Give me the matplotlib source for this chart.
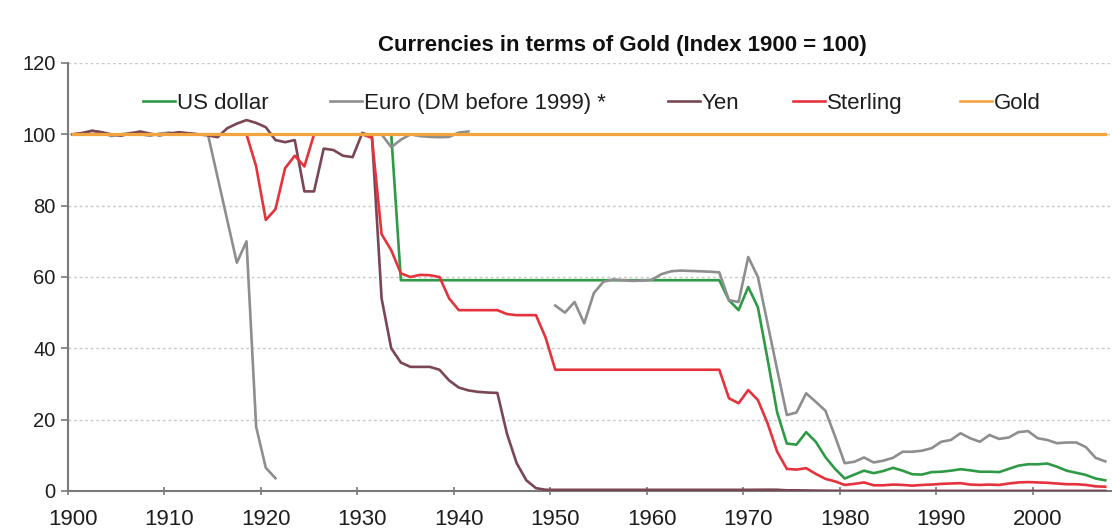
import numpy as np
import matplotlib
matplotlib.use("Agg")
import matplotlib.pyplot as plt

nan = np.nan
years = np.arange(1900, 2008)

series_names = ["US dollar", "Euro (DM before 1999) *", "Yen", "Sterling", "Gold"]

us_dollar = [
    100, 100, 100, 100, 100, 100, 100, 100, 100, 100,
    100, 100, 100, 100, 100, 100, 100, 100, 100, 100,
    100, 100, 100, 100, 100, 100, 100, 100, 100, 100,
    100, 100, 100, 100, 59.1, 59.1, 59.1, 59.1, 59.1, 59.1,
    59.1, 59.1, 59.1, 59.1, 59.1, 59.1, 59.1, 59.1, 59.1, 59.1,
    59.1, 59.1, 59.1, 59.1, 59.1, 59.1, 59.1, 59.1, 59.1, 59.1,
    59.1, 59.1, 59.1, 59.1, 59.1, 59.1, 59.1, 59.1, 53.5, 50.7,
    57.2, 51.5, 37, 22, 13.3, 13.0, 16.5, 13.8, 9.5, 6.2,
    3.5, 4.6, 5.7, 5.0, 5.6, 6.5, 5.7, 4.7, 4.6, 5.3,
    5.4, 5.7, 6.1, 5.8, 5.4, 5.4, 5.3, 6.2, 7.1, 7.5,
    7.5, 7.7, 6.8, 5.7, 5.1, 4.5, 3.5, 3.0,
]

euro_dm = [
    100, 100.3, 101, 100.5, 99.5, 100, 100.4, 100, 99.6, 100.2,
    100.5, 100, 100.3, 100, 100, 88, 76, 64, 70, 18,
    6.5, 3.6, nan, nan, 100, 100, 100, 100, 100, 100,
    100, 100, 100, 96.4, 98.5, 100, 99.5, 99.3, 99.2, 99.3,
    100.5, 100.8, nan, nan, nan, nan, nan, nan, nan, nan,
    52, 50, 53, 47, 55.5, 58.7, 59.3, 59.1, 58.9, 59,
    59.2, 60.8, 61.6, 61.8, 61.7, 61.6, 61.5, 61.3, 53.5, 53,
    65.6, 60, 47, 34, 21.3, 22, 27.4, 25, 22.5, 15.3,
    7.8, 8.2, 9.4, 8.0, 8.5, 9.3, 11, 11, 11.3, 12,
    13.8, 14.3, 16.2, 14.8, 13.8, 15.7, 14.6, 15, 16.5, 16.8,
    14.8, 14.3, 13.4, 13.6, 13.6, 12.3, 9.3, 8.3,
]

yen = [
    100, 100.4, 101, 100.6, 100, 99.6, 100.3, 100.8, 100.2, 99.7,
    100.2, 100.6, 100.3, 100, 99.7, 99.2, 101.7, 103, 104, 103.2,
    102, 98.4, 97.8, 98.4, 84, 84, 96, 95.6, 94, 93.6,
    100.4, 99.5, 54, 40, 36, 34.8, 34.8, 34.8, 34, 31,
    29, 28.2, 27.8, 27.6, 27.5, 16, 7.8, 3, 0.8, 0.35,
    0.33, 0.33, 0.33, 0.33, 0.33, 0.33, 0.33, 0.33, 0.33, 0.33,
    0.33, 0.33, 0.33, 0.33, 0.33, 0.33, 0.33, 0.33, 0.33, 0.33,
    0.33, 0.35, 0.37, 0.35, 0.2, 0.2, 0.15, 0.12, 0.08, 0.06,
    0.03, 0.04, 0.04, 0.04, 0.04, 0.04, 0.03, 0.03, 0.03, 0.03,
    0.03, 0.03, 0.03, 0.03, 0.03, 0.03, 0.03, 0.03, 0.03, 0.03,
    0.03, 0.03, 0.03, 0.03, 0.03, 0.03, 0.03, 0.03,
]

sterling = [
    100, 100, 100, 100, 100, 100, 100, 100, 100, 100,
    100, 100, 100, 100, 100, 100, 100, 100, 100, 91,
    76, 79, 90.5, 94, 91, 100, 100, 100, 100, 100,
    100, 99, 72, 67.5, 61, 60, 60.6, 60.5, 60, 54,
    50.7, 50.7, 50.7, 50.7, 50.7, 49.6, 49.3, 49.3, 49.3, 43,
    34, 34, 34, 34, 34, 34, 34, 34, 34, 34,
    34, 34, 34, 34, 34, 34, 34, 34, 26, 24.6,
    28.3, 25.5, 19, 11, 6.2, 6.0, 6.4, 4.8, 3.4, 2.7,
    1.7, 2.0, 2.4, 1.6, 1.6, 1.8, 1.7, 1.5, 1.7, 1.8,
    2.0, 2.1, 2.2, 1.8, 1.7, 1.8, 1.7, 2.1, 2.4, 2.5,
    2.4, 2.3, 2.1, 1.9, 1.9, 1.7, 1.3, 1.2,
]

gold = [100] * len(years)

y_ticks = [0, 20, 40, 60, 80, 100, 120]
x_ticks = [1900, 1910, 1920, 1930, 1940, 1950, 1960, 1970, 1980, 1990, 2000]

colors = ["#2f9a45", "#8e8e8e", "#7a4654", "#e5333d", "#f3a43c"]

plt.rcParams["font.family"] = ["Liberation Sans", "DejaVu Sans"]

W, H = 1112, 531
fig = plt.figure(figsize=(W / 100, H / 100), dpi=100)
ax_left, ax_bottom, ax_right, ax_top = 68, 40, 1112, 468  # pixels
ax = fig.add_axes([ax_left / W, ax_bottom / H, (ax_right - ax_left) / W, (ax_top - ax_bottom) / H])

x = years + 0.5  # category-centred points
data = [us_dollar, euro_dm, yen, sterling, gold]
for name, vals, c in zip(series_names, data, colors):
    lw = 2.3 if name == "Gold" else 1.9
    ax.plot(x, vals, color=c, lw=lw, zorder=5 if name == "Gold" else 3,
            solid_joinstyle="round")

ax.set_xlim(1900, 2008.2)
ax.set_ylim(0, 120)
ax.set_yticks(y_ticks)
# tick marks at year boundaries, labels centred on the year category
ax.set_xticks(x_ticks)
ax.set_xticklabels([])
ax.set_xticks([t + 0.5 for t in x_ticks], minor=True)
ax.set_xticklabels([str(t) for t in x_ticks], minor=True)
ax.grid(axis="y", color="#c9c9c9", linestyle=(0, (2, 2)), lw=1.0, zorder=0)
for s in ["top", "right"]:
    ax.spines[s].set_visible(False)
for s in ["left", "bottom"]:
    ax.spines[s].set_color("#7a7a7a")
    ax.spines[s].set_linewidth(1.5)
ax.tick_params(axis="y", direction="out", length=5, width=1.2, color="#7a7a7a",
               labelsize=14.5, labelcolor="#1e1e1e", pad=4)
ax.tick_params(axis="x", which="major", direction="inout", length=6, width=1.2,
               color="#7a7a7a")
ax.tick_params(axis="x", which="minor", length=0, labelsize=16,
               labelcolor="#1e1e1e", pad=13)

fig.text(0.56, 1 - 45 / H, "Currencies in terms of Gold (Index 1900 = 100)",
         ha="center", va="center", fontsize=16, fontweight="bold", color="#111111")

# legend drawn manually (line + label)
leg_x = [143, 330, 668, 793, 960]  # pixel start of each legend line
leg_y = 101
span = ax_right - ax_left
for name, c, px in zip(series_names, colors, leg_x):
    x0 = (px - ax_left) / span
    x1 = (px + 32 - ax_left) / span
    yy = 1 - (leg_y - (H - ax_top)) / (ax_top - ax_bottom)
    ax.plot([x0, x1], [yy, yy], transform=ax.transAxes, color=c, lw=1.9, clip_on=False)
    ax.text(x1 + 2 / span, yy, name, transform=ax.transAxes, ha="left",
            va="center_baseline", fontsize=16, color="#1e1e1e")

fig.savefig("out.png", dpi=100, facecolor="white")
